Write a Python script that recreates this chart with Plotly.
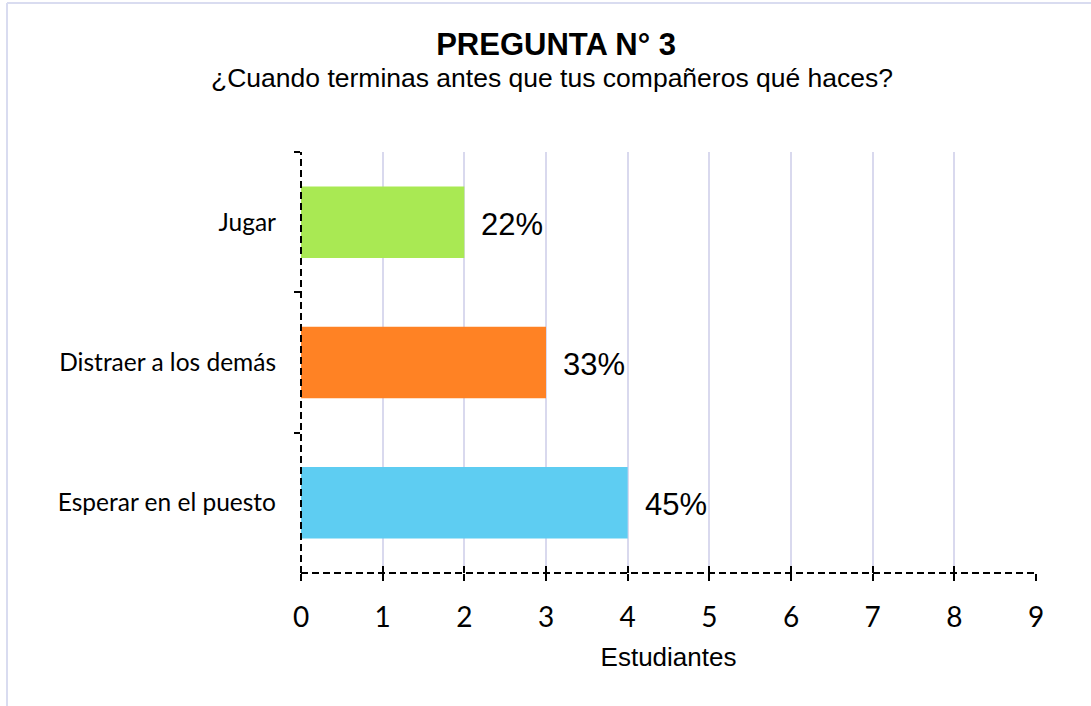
import plotly.graph_objects as go

# datos de la pregunta 3
categorias = ['Jugar', 'Distraer a los demás', 'Esperar en el puesto']
estudiantes = [2, 3, 4]
porcentajes = ['22%', '33%', '45%']
colores = ['#a9e953', '#ff8224', '#5ecdf2']
ticks_x = list(range(0, 10))

fuente_ticks = dict(family='Lato', size=28, color='black')

fig = go.Figure()
fig.add_trace(go.Bar(
    x=estudiantes,
    y=categorias,
    orientation='h',
    marker=dict(color=colores, line=dict(width=0)),
    hoverinfo='skip',
    showlegend=False
))
# traza vacia para que se dibujen las marcas interiores del eje x
fig.add_trace(go.Scatter(x=[], y=[], xaxis='x2', yaxis='y', showlegend=False, hoverinfo='skip'))

# etiquetas de porcentaje a la derecha de cada barra
for cat, val, pct in zip(categorias, estudiantes, porcentajes):
    fig.add_annotation(
        x=val, y=cat, text=pct, showarrow=False,
        xanchor='left', xshift=15, yshift=-2,
        font=dict(family='Liberation Sans', size=31, color='black')
    )

# subtitulo
fig.add_annotation(
    x=0.341, y=1.176, xref='paper', yref='paper', showarrow=False,
    xanchor='center', yanchor='middle',
    text='¿Cuando terminas antes que tus compañeros qué haces?',
    font=dict(family='Liberation Sans', size=26.5, color='black')
)

fig.update_layout(
    width=1091, height=706,
    margin=dict(l=301, r=55, t=152, b=133),
    paper_bgcolor='white', plot_bgcolor='white',
    bargap=0.49,
    title=dict(
        text='<b>PREGUNTA N° 3</b>',
        x=0.5097, xanchor='center', y=0.937, yanchor='middle',
        font=dict(family='Liberation Sans', size=31, color='black')
    ),
    xaxis=dict(
        range=[0, 9], tickvals=ticks_x, showline=False, zeroline=False,
        showgrid=True, gridcolor='#d9d9ee', gridwidth=2,
        ticks='outside', ticklen=7, tickwidth=2, tickcolor='black',
        ticklabelstandoff=12,
        tickfont=fuente_ticks,
        title=dict(text='Estudiantes', standoff=16,
                   font=dict(family='Liberation Sans', size=26, color='black'))
    ),
    xaxis2=dict(
        range=[0, 9], tickvals=ticks_x, overlaying='x', anchor='y', side='bottom',
        showline=False, zeroline=False, showgrid=False, showticklabels=False,
        tickfont=fuente_ticks,
        ticks='inside', ticklen=7, tickwidth=2, tickcolor='black'
    ),
    yaxis=dict(
        autorange='reversed', showline=False, showgrid=False, zeroline=False,
        tickson='boundaries', ticks='outside', ticklen=6, tickwidth=2, tickcolor='black',
        ticklabelstandoff=24,
        tickfont=dict(family='Lato', size=24.5, color='black')
    ),
    shapes=[
        # ejes punteados
        dict(type='line', xref='paper', yref='paper', x0=0, x1=1, y0=0, y1=0,
             line=dict(color='black', width=2, dash='7px,4px')),
        dict(type='line', xref='paper', yref='paper', x0=0, x1=0, y0=0, y1=1,
             line=dict(color='black', width=2, dash='7px,4px')),
        # marco del gráfico
        dict(type='line', xref='paper', yref='paper', x0=-0.4, x1=1.08, y0=1.354, y1=1.354,
             line=dict(color='#d9dcf0', width=2)),
        dict(type='line', xref='paper', yref='paper', x0=-0.4, x1=-0.4, y0=1.354, y1=-0.32,
             line=dict(color='#d9dcf0', width=2)),
    ]
)

fig.write_html('out.html', config={'displayModeBar': False},
               post_script="document.body.style.margin='0';")
